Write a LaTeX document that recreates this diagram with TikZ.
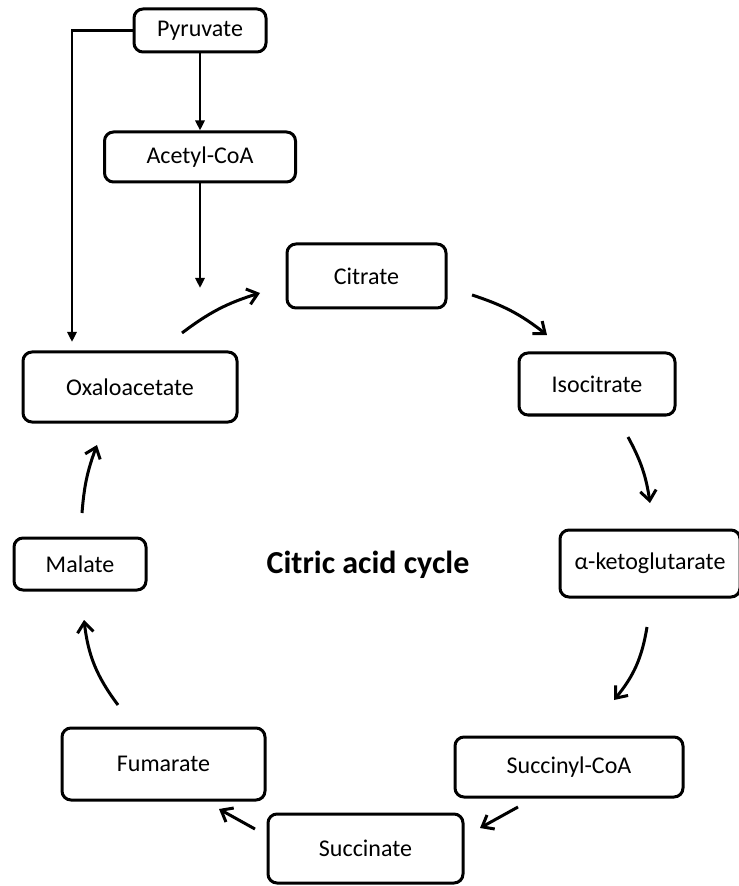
\documentclass[tikz,border=0pt]{standalone}
\usepackage{fontspec}
\setmainfont{Carlito}
\usetikzlibrary{arrows.meta}

\tikzset{
	stage/.style={draw, line width=1.5pt, rounded corners=4.5pt, inner sep=0pt, font=\fontsize{12}{14}\selectfont},
	cyc/.style={line width=1.5pt, -{Straight Barb[length=5pt,width=8pt]}},
	feed/.style={line width=1.3pt, -{Triangle[length=5pt,width=4.5pt]}}
}

\begin{document}
\begin{tikzpicture}[x=0.5pt,y=-0.5pt]
	
	\useasboundingbox (0,0) rectangle (738,886);
	
	\node[stage, minimum width=66pt, minimum height=21.5pt] (pyr) at (200,30.5) {Pyruvate};
	\node[stage, minimum width=95.5pt, minimum height=25pt] (acetyl) at (200,157) {Acetyl-CoA};
	\node[stage, minimum width=79.5pt, minimum height=32pt] (cit) at (366.5,276) {Citrate};
	\node[stage, minimum width=78pt, minimum height=31pt] (iso) at (597,384) {Isocitrate};
	\node[stage, minimum width=90pt, minimum height=33.5pt] (akg) at (650,563.5) {α-ketoglutarate};
	\node[stage, minimum width=114pt, minimum height=30pt] (succoa) at (569,767) {Succinyl-CoA};
	\node[stage, minimum width=97.5pt, minimum height=34.5pt] (succ) at (365.5,848.5) {Succinate};
	\node[stage, minimum width=101.5pt, minimum height=36pt] (fum) at (163.5,764) {Fumarate};
	\node[stage, minimum width=66pt, minimum height=26pt] (mal) at (80,564) {Malate};
	\node[stage, minimum width=107pt, minimum height=35pt] (oxa) at (130,387) {Oxaloacetate};
	
	\node[font=\bfseries\fontsize{16}{19}\selectfont] (title) at (368,565) {Citric acid cycle};
	
	\coordinate (oxaIn) at (72,342);
	\coordinate (acetylOut) at (200,288);
	
	\coordinate (s1) at (182,333);
	\coordinate (e1) at (260,293);
	\coordinate (s2) at (472,295);
	\coordinate (e2) at (547,335);
	\coordinate (s3) at (628,437);
	\coordinate (e3) at (650,503);
	\coordinate (s4) at (647,627);
	\coordinate (e4) at (614,700);
	\coordinate (s5) at (518,807);
	\coordinate (e5) at (480,828);
	\coordinate (s6) at (255,829);
	\coordinate (e6) at (219,809);
	\coordinate (s7) at (118,705);
	\coordinate (e7) at (84,620);
	\coordinate (s8) at (82,513);
	\coordinate (e8) at (97,445);
	
	\draw[feed] (pyr.west) -| (oxaIn);
	\draw[feed] (pyr) -- (acetyl);
	\draw[feed] (acetyl) -- (acetylOut);
	
	\draw[cyc] (s1) to[bend left=10] (e1);
	\draw[cyc] (s2) to[bend left=10] (e2);
	\draw[cyc] (s3) to[bend left=10] (e3);
	\draw[cyc] (s4) to[bend left=15] (e4);
	\draw[cyc] (s5) -- (e5);
	\draw[cyc] (s6) -- (e6);
	\draw[cyc] (s7) to[bend left=15] (e7);
	\draw[cyc] (s8) to[bend left=8] (e8);
	
\end{tikzpicture}
\end{document}
